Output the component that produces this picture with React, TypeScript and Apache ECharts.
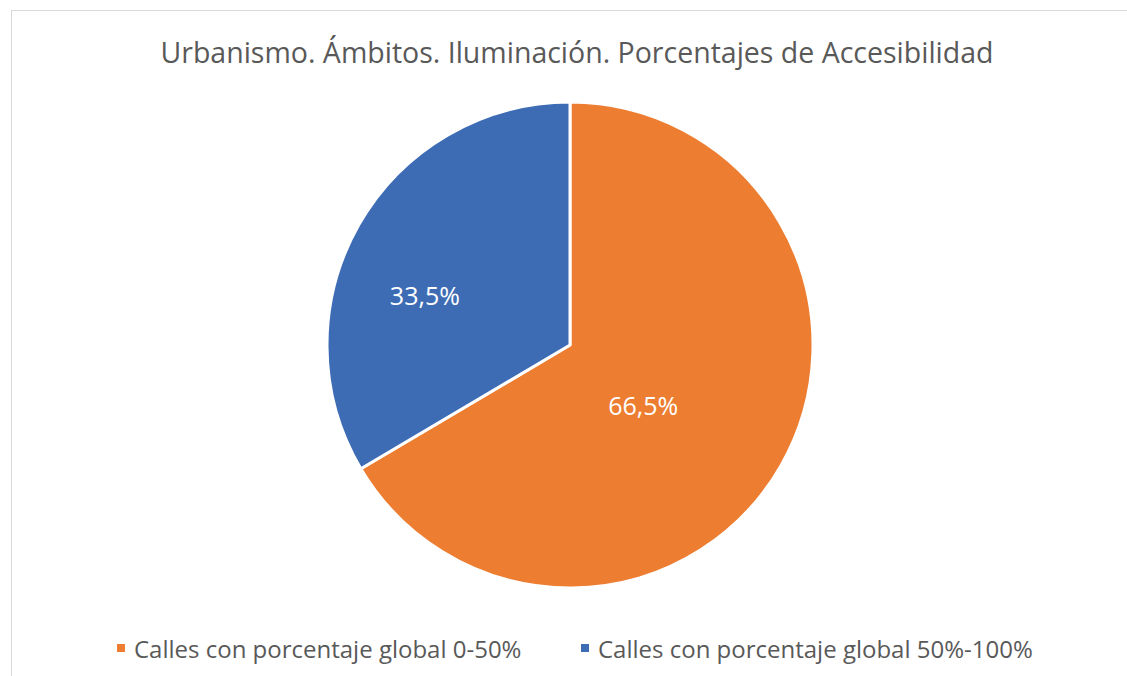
import React, { useEffect, useRef } from "react";
import * as echarts from "echarts";

const titleText = "Urbanismo. Ámbitos. Iluminación. Porcentajes de Accesibilidad";
const categories = ["Calles con porcentaje global 0-50%", "Calles con porcentaje global 50%-100%"];
const values = [66.5, 33.5];
const colors = ["#ED7D31", "#3D6CB4"];
const labelOffsets = [[-35, -2], [-37, 12]];

export default function App() {
  const ref = useRef<HTMLDivElement>(null);
  useEffect(() => {
    document.body.style.margin = "0";
    const chart = echarts.init(ref.current!, null, { renderer: "svg" });
    const font = "'Open Sans', 'Noto Sans', sans-serif";
    chart.setOption({
      animation: false,
      backgroundColor: "#ffffff",
      title: {
        text: titleText,
        left: 572,
        textAlign: "center",
        top: 32,
        textStyle: { fontFamily: font, fontSize: 28.5, fontWeight: "normal", color: "#595959" },
      },
      graphic: [
        { type: "line", shape: { x1: 11, y1: 10.5, x2: 1127, y2: 10.5 }, style: { stroke: "#d9d9d9", lineWidth: 1 } },
        { type: "line", shape: { x1: 11.5, y1: 10, x2: 11.5, y2: 676 }, style: { stroke: "#d9d9d9", lineWidth: 1 } },
      ],
      legend: categories.map((c, i) => ({
        data: [c],
        left: i === 0 ? 115 : 579,
        top: 636,
        icon: "rect",
        itemWidth: 10,
        itemHeight: 10,
        itemGap: 6,
        padding: 0,
        textStyle: { fontFamily: font, fontSize: 24, color: "#595959", padding: [0, 0, 0, 3] },
        selectedMode: false,
      })),
      series: [
        {
          type: "pie",
          center: [570, 345],
          radius: [0, 243],
          startAngle: 90,
          clockwise: true,
          data: categories.map((c, i) => ({
            name: c,
            value: values[i],
            itemStyle: { color: colors[i] },
            label: { offset: labelOffsets[i] },
          })),
          itemStyle: { borderColor: "#ffffff", borderWidth: 3 },
          label: {
            show: true,
            position: "inside",
            formatter: (p: any) => p.value.toFixed(1).replace(".", ",") + "%",
            fontFamily: font,
            fontSize: 25,
            color: "#ffffff",
          },
          labelLine: { show: false },
          emphasis: { disabled: true },
        },
      ],
    });
    return () => chart.dispose();
  }, []);
  return <div ref={ref} style={{ width: 1127, height: 676 }} />;
}
